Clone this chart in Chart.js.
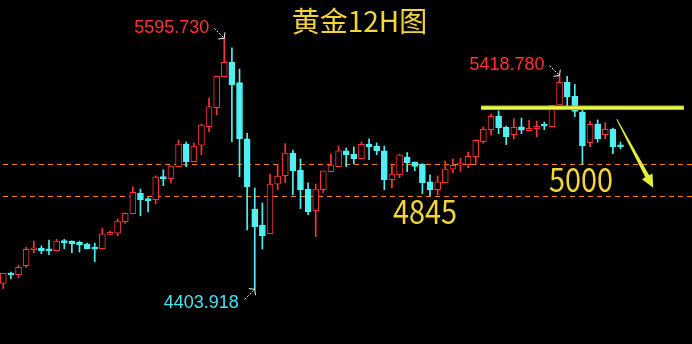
<!DOCTYPE html>
<html><head><meta charset="utf-8">
<script src="https://cdn.jsdelivr.net/npm/chart.js@4/dist/chart.umd.min.js"></script>
<style>html,body{margin:0;padding:0;background:#000;overflow:hidden}#wrap{width:692px;height:344px}canvas{display:block}</style>
</head><body><div id="wrap"><canvas id="c" width="692" height="344"></canvas></div>
<script>
// ---- data (12H gold candles) ----
const candles = Array.from({length: 82}, (_, i) => i);
const opens  = [4432,4478,4473,4516,4592,4600,4591,4587,4635,4633,4627,4619,4605,4597,4665,4670,4725,4763,4860,4834,
                4829,4939,4929,4986,5094,5010,5088,5176,5266,5413,5483,5385,5118,4785,4709,4668,4903,4943,5051,4970,
                4880,4777,4877,4962,4986,5061,5046,5024,5094,5084,5061,4924,4948,5032,5008,4999,4914,4877,4910,4974,
                4993,4996,5034,5105,5162,5225,5173,5138,5175,5157,5167,5184,5176,5280,5387,5320,5246,5100,5189,5138,
                5165,5088];
const highs  = [4480,4486,4518,4603,4633,4610,4638,4641,4641,4634,4633,4624,4624,4695,4681,4738,4766,4890,4880,4839,
                4943,4972,4990,5113,5103,5099,5189,5312,5416,5595.73,5550,5450,5145,4885,4814,4951,4994,5095,5065,5023,
                4909,4904,4966,5046,5084,5075,5080,5103,5118,5099,5084,4999,5046,5053,5009,5000,4947,4942,5013,5023,
                5026,5056,5113,5175,5236,5251,5179,5213,5217,5208,5203,5198,5278,5418.78,5415,5377,5260,5202,5208,5194,
                5170,5103];
const lows   = [4408,4453,4459,4508,4578,4573,4568,4586,4597,4578,4581,4596,4535,4595,4664,4658,4717,4762,4753,4772,
                4810,4896,4910,4985,4986,5009,5043,5152,5233,5412,5105,4939,4686,4403.918,4595,4667,4877,4910,4852,4787,
                4758,4654,4863,4961,4985,4986,5000,5023,5019,5043,4877,4886,4934,4962,4967,4858,4848,4853,4909,4958,
                4964,4981,4999,5097,5138,5143,5091,5119,5143,5156,5128,5162,5175,5279,5259,5224,4999,5081,5103,5119,
                5048,5070];
const closes = [4480,4472,4508,4594,4600,4586,4587,4633,4624,4619,4616,4597,4595,4667,4675,4728,4765,4865,4829,4825,
                4937,4929,4989,5094,5010,5084,5184,5270,5415,5482,5375,5119,4891,4701,4659,4904,4941,5051,4967,4877,
                4772,4880,4966,4994,5061,5043,5023,5092,5081,5062,4924,4951,5042,5005,4988,4910,4877,4914,4975,4993,
                5004,5035,5111,5164,5225,5171,5129,5173,5160,5168,5178,5178,5278,5387,5318,5249,5086,5187,5119,5164,
                5081,5081];
const levels = [5000, 4845];
const levelLabels = ['5000', '4845'];
const resistance = 5266;
const resistanceSpan = [62.7, 89.3];
const arrowFrom = [80.5, 5212];
const arrowTo = [85.3, 4886];
const title = '黄金12H图';
const highMarks = [{i: 29, text: '5595.730'}, {i: 73, text: '5418.780'}];
const lowMarks = [{i: 33, text: '4403.918'}];

// ---- styles ----
const UP = '#ff3434', DOWN = '#4ff0f4', BG = '#000000';
const YEL = '#f2d43c', LINEYEL = '#e2f03c', ORANGE = '#ff8000';
const candleColors = candles.map((_, i) => closes[i] >= opens[i] ? UP : DOWN);
const bodyFill = candles.map((_, i) => closes[i] >= opens[i] ? BG : DOWN);

function dottedArrow(ctx, x0, y0, x1, y1) {
  ctx.save();
  ctx.strokeStyle = '#ffffff';
  ctx.lineWidth = 1;
  ctx.setLineDash([2, 1.5]);
  ctx.beginPath(); ctx.moveTo(x0, y0); ctx.lineTo(x1, y1); ctx.stroke();
  ctx.setLineDash([]);
  const a = Math.atan2(y1 - y0, x1 - x0), L = 6;
  ctx.beginPath();
  ctx.moveTo(x1 - L * Math.cos(a - 0.9), y1 - L * Math.sin(a - 0.9));
  ctx.lineTo(x1, y1);
  ctx.lineTo(x1 - L * Math.cos(a + 0.9), y1 - L * Math.sin(a + 0.9));
  ctx.stroke();
  ctx.restore();
}

const annot = {
  id: 'annot',
  beforeDraw(chart) {
    const ctx = chart.ctx;
    ctx.save(); ctx.fillStyle = BG; ctx.fillRect(0, 0, chart.width, chart.height); ctx.restore();
  },
  beforeDatasetsDraw(chart) {
    const ctx = chart.ctx, ys = chart.scales.y, area = chart.chartArea;
    ctx.save();
    ctx.strokeStyle = ORANGE; ctx.lineWidth = 1; ctx.setLineDash([5, 4]);
    levels.forEach(v => {
      const y = Math.round(ys.getPixelForValue(v)) + 0.5;
      ctx.beginPath(); ctx.moveTo(area.left + 3, y); ctx.lineTo(area.right, y); ctx.stroke();
    });
    ctx.restore();
  },
  afterDatasetsDraw(chart) {
    const ctx = chart.ctx, xs = chart.scales.x, ys = chart.scales.y;
    ctx.save();
    // title
    ctx.fillStyle = YEL;
    ctx.font = '28px "Noto Sans CJK SC"';
    ctx.textAlign = 'center'; ctx.textBaseline = 'middle';
    ctx.fillText(title, 359.5, 21);
    // level labels
    const lx = {'5000': 549, '4845': 393};
    ctx.font = '33px "Noto Sans CJK SC"';
    ctx.textAlign = 'left'; ctx.textBaseline = 'alphabetic';
    levels.forEach((v, k) => {
      const t = levelLabels[k];
      const w = ctx.measureText(t).width;
      const y = ys.getPixelForValue(v) + 28;
      ctx.save(); ctx.translate(lx[t], y); ctx.scale(64 / w, 1); ctx.fillText(t, 0, 0); ctx.restore();
    });
    // high / low marks
    ctx.font = '18px "Liberation Sans", Arial, sans-serif';
    ctx.textAlign = 'right';
    highMarks.forEach(m => {
      const x = xs.getPixelForValue(candles[m.i]), y = ys.getPixelForValue(highs[m.i]);
      ctx.fillStyle = UP; ctx.fillText(m.text, x - 15, y - 5.8);
      dottedArrow(ctx, x - 10, y - 10, x, y);
    });
    lowMarks.forEach(m => {
      const x = xs.getPixelForValue(candles[m.i]), y = ys.getPixelForValue(lows[m.i]);
      ctx.fillStyle = '#44e4f0'; ctx.fillText(m.text, x - 16, y + 19);
      dottedArrow(ctx, x - 10, y + 10, x, y);
    });
    // yellow arrow (tapering shaft + head)
    const ax0 = xs.getPixelForValue(arrowFrom[0]), ay0 = ys.getPixelForValue(arrowFrom[1]);
    const ax1 = xs.getPixelForValue(arrowTo[0]), ay1 = ys.getPixelForValue(arrowTo[1]);
    const a = Math.atan2(ay1 - ay0, ax1 - ax0), len = Math.hypot(ax1 - ax0, ay1 - ay0);
    ctx.translate(ax0, ay0); ctx.rotate(a);
    ctx.fillStyle = LINEYEL;
    const hl = 13, hw = 6;
    ctx.beginPath();
    ctx.moveTo(0, -0.5); ctx.lineTo(len - hl, -2.2); ctx.lineTo(len - hl, -hw);
    ctx.lineTo(len, 0);
    ctx.lineTo(len - hl, hw); ctx.lineTo(len - hl, 2.2); ctx.lineTo(0, 0.5);
    ctx.closePath(); ctx.fill();
    ctx.restore();
  }
};

new Chart(document.getElementById('c'), {
  type: 'bar',
  data: {
    datasets: [
      {
        label: 'wick',
        data: candles.map((c, i) => ({x: c, y: [lows[i], highs[i]]})),
        backgroundColor: candleColors, borderWidth: 0,
        barThickness: 1, grouped: false, order: 3
      },
      {
        label: 'body',
        data: candles.map((c, i) => ({x: c, y: [opens[i], closes[i]]})),
        backgroundColor: bodyFill, borderColor: candleColors, borderWidth: 1,
        borderSkipped: false, barThickness: 6, minBarLength: 2, grouped: false, order: 2
      },
      {
        type: 'line', label: 'resistance',
        data: [{x: resistanceSpan[0], y: resistance}, {x: resistanceSpan[1], y: resistance}],
        borderColor: '#a9b82a', borderWidth: 4.5, pointRadius: 0, order: 1
      },
      {
        type: 'line', label: 'resistance-core',
        data: [{x: resistanceSpan[0], y: resistance}, {x: resistanceSpan[1], y: resistance}],
        borderColor: '#eef84c', borderWidth: 2.5, pointRadius: 0, order: 0
      }
    ]
  },
  options: {
    responsive: false, animation: false, devicePixelRatio: 1,
    layout: {padding: 0},
    plugins: {legend: {display: false}, tooltip: {enabled: false}},
    scales: {
      x: {type: 'linear', min: -0.433, max: 90.38, offset: false, display: false},
      y: {min: 4144.3, max: 5777.6, display: false}
    }
  },
  plugins: [annot]
});
</script></body></html>
